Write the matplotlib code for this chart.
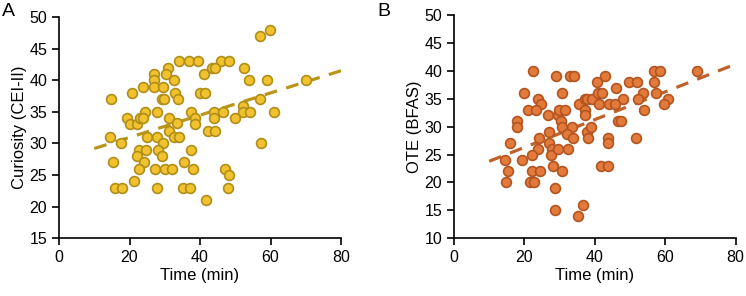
import matplotlib
matplotlib.use("Agg")
import matplotlib.pyplot as plt
import numpy as np

plt.rcParams['font.family'] = ['Liberation Sans', 'DejaVu Sans']

# Panel A: Time (min) vs Curiosity (CEI-II)
time_a = [34, 37, 39.3, 31, 30.4, 27, 27, 27, 29.5, 32.7, 23.8, 20.8, 14.8, 29.2, 29.8,
          33, 33.9, 40.1, 41.5, 41, 24.4, 27.9, 19.2, 20, 22.2, 23, 23.9, 31.1, 33.4,
          31.1, 32.7, 34.1, 37.4, 38.6, 38.5, 42.2, 14.5, 17.5, 25.1, 27.9, 29.5, 22.8,
          24.7, 28.2, 22.2, 29.2, 24, 15.4, 22.8, 27.3, 30.1, 32, 35.5, 37.9, 37.4, 21.4,
          15.9, 17.8, 27.9, 35.1, 37.2, 41.8,
          57.1, 59.9, 46, 48.3, 43.4, 44.3, 52.4, 54, 59, 70.2, 44.1, 46.4, 44.1, 52.1,
          52.1, 54.3, 50, 57.1, 60.9, 44.3, 57.4, 47, 48.3, 47.9]
curiosity = [43, 43, 43, 42, 41, 41, 40, 39, 39, 40, 39, 38, 37, 37, 37,
             38, 37, 38, 38, 41, 35, 35, 34, 33, 33, 34, 34, 34, 33.2,
             32, 31, 31, 35, 34, 33, 32, 31, 30, 31, 31, 30, 29,
             29, 29, 28, 28, 27, 27, 26, 26, 26, 26, 27, 26, 29, 24,
             23, 23, 23, 23, 23, 21,
             47, 48, 43, 43, 42, 42, 42, 40, 40, 40, 35, 35, 34, 36,
             35, 35, 34, 37, 35, 32, 30, 26, 25, 23]
trend_a_x = [10, 80]
trend_a_y = [29.2, 41.5]

# Panel B: Time (min) vs OTE (BFAS)
time_b = [22.5, 28.9, 33.0, 34.2, 20.0, 30.8, 24.0, 24.7, 20.9, 23.2, 26.8, 29.5, 29.8,
          31.5, 35.5, 37.2, 37.2, 30.4, 30.8, 33.4, 32.0, 33.9, 17.8, 17.8, 27.0, 27.0,
          24.1, 15.9, 23.8, 22.1, 27.8, 27.6, 29.5, 32.5, 19.2, 14.5, 15.4, 14.7, 22.1,
          24.4, 21.6, 22.8, 28.0, 30.8, 28.7, 28.7, 36.7, 35.3, 37.2, 37.7, 38.0,
          56.9, 58.5, 69.2, 42.9, 40.5, 49.7, 51.9, 56.9, 46.0, 53.8, 57.3, 60.7, 59.7,
          52.2, 48.1, 37.7, 39.3, 41.0, 42.1, 41.2, 44.0, 45.7, 54.1, 46.7, 47.6, 38.9,
          43.8, 43.8, 51.7, 41.8, 43.8]
ote = [40, 39, 39, 39, 36, 36, 35, 34, 33, 33, 32, 32, 33,
       33, 34, 35, 33, 31, 30, 30, 28.6, 28, 31, 30, 29, 27,
       28, 27, 26, 25, 26, 25, 26, 26, 24, 24, 22, 20, 22,
       22, 20, 20, 23, 22, 19, 15, 16, 14, 32, 29, 28,
       40, 40, 40, 39, 38, 38, 38, 38, 37, 36, 36, 35, 34,
       35, 35, 35, 35, 36, 36, 34, 34, 34, 33, 31, 31, 30,
       28, 27, 28, 23, 23]
trend_b_x = [10, 80]
trend_b_y = [23.8, 41.2]

W, H = 746, 296
fig = plt.figure(figsize=(W / 100, H / 100), dpi=100)

ax_a = fig.add_axes([59 / W, (H - 238.3) / H, 282 / W, 221.3 / H])
ax_b = fig.add_axes([454 / W, (H - 238.3) / H, 281.5 / W, 223.3 / H])

def style(ax, ylim, yticks, ylabel):
    ax.set_xlim(0, 80)
    ax.set_ylim(*ylim)
    ax.set_xticks([0, 20, 40, 60, 80])
    ax.set_yticks(yticks)
    for s in ['top', 'right']:
        ax.spines[s].set_visible(False)
    for s in ['left', 'bottom']:
        ax.spines[s].set_linewidth(1.2)
        ax.spines[s].set_color('black')
    ax.tick_params(direction='out', length=5, width=1.2, labelsize=11.5, colors='black')
    ax.set_xlabel('Time (min)', fontsize=12, labelpad=2)
    ax.set_ylabel(ylabel, fontsize=12, labelpad=2)

ax_a.plot(trend_a_x, trend_a_y, linestyle=(0, (4, 3)), color='#B8961C', linewidth=2.3, zorder=1)
ax_a.scatter(time_a, curiosity, s=50, facecolor='#F2C12E', edgecolor='#B08E1A', linewidth=1.2, zorder=2)
style(ax_a, (15, 50), range(15, 51, 5), 'Curiosity (CEI-II)')

ax_b.plot(trend_b_x, trend_b_y, linestyle=(0, (4, 3)), color='#C0602A', linewidth=2.3, zorder=1)
ax_b.scatter(time_b, ote, s=50, facecolor='#E27A3C', edgecolor='#B4541F', linewidth=1.2, zorder=2)
style(ax_b, (10, 50), range(10, 51, 5), 'OTE (BFAS)')

fig.text(8 / W, 1 - 12 / H, 'A', fontsize=14, ha='center', va='center')
fig.text(384 / W, 1 - 12 / H, 'B', fontsize=14, ha='center', va='center')

fig.savefig('out.png', dpi=100)
